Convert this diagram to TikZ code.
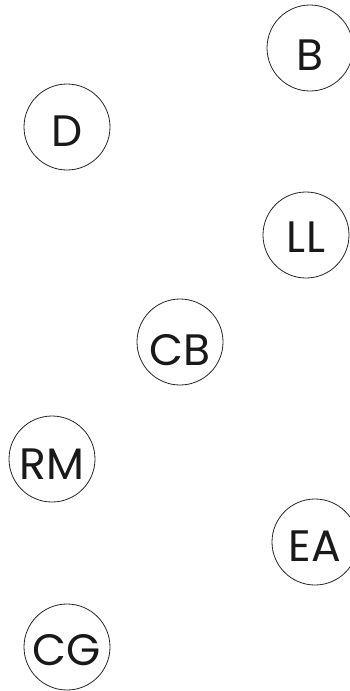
\documentclass[tikz,border=0pt]{standalone}
\usepackage{fontspec}
\setmainfont{Poppins}
\begin{document}
\begin{tikzpicture}[x=1pt,y=-1pt,
  ball/.style={draw=black!85,line width=0.8pt,circle,minimum size=86pt,inner sep=0pt},
  tag/.style={inner sep=0pt,anchor=center,font=\fontsize{44}{44}\selectfont,text=black!90}]
\useasboundingbox (0,0) rectangle (350,691);
\node[ball] (B)  at (310,48)  {};
\node[ball] (D)  at (67,127)  {};
\node[ball] (LL) at (306,235) {};
\node[ball] (CB) at (180,342) {};
\node[ball] (RM) at (52,459)  {};
\node[ball] (EA) at (315,542) {};
\node[ball] (CG) at (67,647)  {};
\node[tag] (tB)  at ([yshift=-7pt]B.center)  {B};
\node[tag] (tD)  at ([yshift=-4pt]D.center)  {D};
\node[tag] (tLL) at ([yshift=-2pt]LL.center) {LL};
\node[tag] (tCB) at ([yshift=-8pt]CB.center) {CB};
\node[tag] (tRM) at ([yshift=-5pt]RM.center) {RM};
\node[tag] (tEA) at ([yshift=-4pt]EA.center) {EA};
\node[tag] (tCG) at ([yshift=-3pt]CG.center) {CG};
\end{tikzpicture}
\end{document}
